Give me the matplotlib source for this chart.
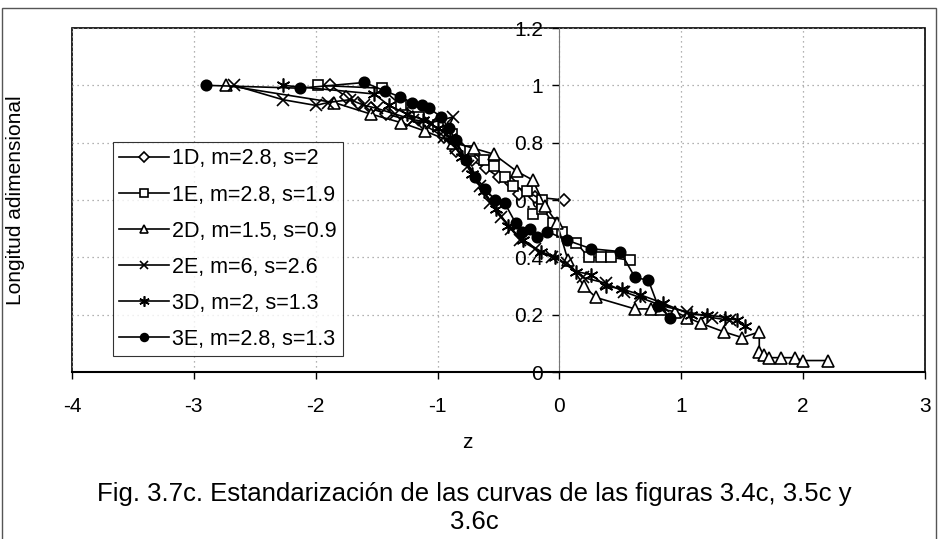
import numpy as np
import matplotlib.pyplot as plt
from matplotlib.patches import Rectangle

plt.rcParams['font.family'] = ['Liberation Sans', 'DejaVu Sans']
plt.rcParams['axes.unicode_minus'] = False

# Data (z, longitud adimensional)
z_1D = [-1.88, -1.75, -1.65, -1.55, -1.42, -1.25, -1.10, -0.95, -0.85, -0.72, -0.60, -0.50, -0.40, -0.33, -0.20, 0.04]
y_1D = [1.00, 0.96, 0.94, 0.92, 0.90, 0.88, 0.86, 0.82, 0.77, 0.74, 0.71, 0.68, 0.66, 0.62, 0.61, 0.60]

z_1E = [-1.98, -1.46, -1.30, -1.15, -1.00, -0.88, -0.73, -0.62, -0.54, -0.45, -0.38, -0.27, -0.14, -0.22, -0.14, -0.05, 0.02, 0.14, 0.24, 0.34, 0.42, 0.58]
y_1E = [1.00, 0.99, 0.93, 0.89, 0.86, 0.83, 0.77, 0.74, 0.72, 0.68, 0.65, 0.63, 0.60, 0.55, 0.57, 0.52, 0.49, 0.45, 0.40, 0.40, 0.40, 0.39]

z_2D = [-2.74, -1.85, -1.55, -1.30, -1.10, -0.87, -0.70, -0.54, -0.35, -0.22, -0.12, -0.02, 0.07, 0.20, 0.30, 0.62, 0.75, 0.83, 0.95,
        1.05, 1.16, 1.35, 1.50, 1.64, 1.64, 1.68, 1.72, 1.82, 1.93, 2.00, 2.20]
y_2D = [1.00, 0.94, 0.90, 0.87, 0.84, 0.80, 0.78, 0.76, 0.70, 0.67, 0.58, 0.52, 0.39, 0.30, 0.26, 0.22, 0.22, 0.22, 0.21,
        0.19, 0.17, 0.14, 0.12, 0.14, 0.07, 0.06, 0.05, 0.05, 0.05, 0.04, 0.04]

z_2E = [-2.67, -2.27, -2.00, -1.90, -1.72, -1.60, -1.50, -1.35, -1.20, -1.05, -0.87, -0.95, -0.85, -0.75, -0.65, -0.57, -0.48,
        -0.40, -0.32, -0.20, -0.06, 0.06, 0.19, 0.38, 0.53, 0.66, 0.85, 1.05, 1.25, 1.40]
y_2E = [1.00, 0.95, 0.93, 0.94, 0.95, 0.93, 0.92, 0.90, 0.88, 0.87, 0.89, 0.82, 0.78, 0.72, 0.65, 0.59, 0.54,
        0.50, 0.46, 0.43, 0.40, 0.38, 0.33, 0.31, 0.28, 0.26, 0.23, 0.21, 0.19, 0.18]

z_3D = [-2.27, -1.52, -1.40, -1.25, -1.12, -1.00, -0.90, -0.80, -0.72, -0.62, -0.52, -0.42, -0.30, -0.15, -0.04, 0.14,
        0.26, 0.38, 0.51, 0.66, 0.85, 1.08, 1.21, 1.36, 1.46, 1.52]
y_3D = [1.00, 0.97, 0.93, 0.90, 0.88, 0.85, 0.82, 0.75, 0.69, 0.63, 0.57, 0.51, 0.46, 0.42, 0.40, 0.35,
        0.34, 0.30, 0.29, 0.27, 0.24, 0.20, 0.20, 0.19, 0.18, 0.16]

z_3E = [-2.90, -2.13, -1.60, -1.43, -1.31, -1.21, -1.13, -1.07, -0.97, -0.91, -0.85, -0.77, -0.69, -0.61, -0.53, -0.45,
        -0.36, -0.31, -0.24, -0.18, -0.10, 0.06, 0.26, 0.50, 0.62, 0.73, 0.81, 0.91]
y_3E = [1.00, 0.99, 1.01, 0.98, 0.96, 0.94, 0.93, 0.92, 0.89, 0.85, 0.81, 0.74, 0.68, 0.64, 0.60, 0.59,
        0.52, 0.49, 0.50, 0.47, 0.49, 0.46, 0.43, 0.42, 0.33, 0.32, 0.23, 0.19]

labels = ['1D, m=2.8, s=2', '1E, m=2.8, s=1.9', '2D, m=1.5, s=0.9',
          '2E, m=6, s=2.6', '3D, m=2, s=1.3', '3E, m=2.8, s=1.3']

series = [(z_1D, y_1D, 'D', 'white', 6.5),
          (z_1E, y_1E, 's', 'white', 7.5),
          (z_2D, y_2D, '^', 'white', 8.5),
          (z_2E, y_2E, 'x', 'black', 8.5),
          (z_3D, y_3D, (6, 2, 0), 'black', 10),
          (z_3E, y_3E, 'o', 'black', 7.5)]

fig = plt.figure(figsize=(9.38, 5.39), dpi=100)
ax = fig.add_axes([72 / 938, 1 - 372 / 539, (925 - 72) / 938, (372 - 28) / 539])

for (zz, yy, mk, fc, ms), lab in zip(series, labels):
    ax.plot(zz, yy, color='black', lw=1.2, marker=mk, markerfacecolor=fc,
            markeredgecolor='black', markeredgewidth=1.2, markersize=ms, label=lab)

ax.set_xlim(-4, 3)
ax.set_ylim(0, 1.2)
ax.set_xticks(np.arange(-4, 4, 1))
ax.set_yticks(np.arange(0, 1.21, 0.2))
ax.set_yticklabels(['0', '0.2', '0.4', '0.6', '0.8', '1', '1.2'])
ax.tick_params(labelsize=15, direction='out', length=5, width=1)
ax.tick_params(axis='x', pad=13)
ax.tick_params(axis='y', pad=7)
ax.grid(True, color='#999999', linestyle=(0, (1, 3)), linewidth=0.9)

# y axis crosses at z = 0, plot-area frame drawn separately
ax.spines['left'].set_position(('data', 0))
ax.spines['left'].set_color('#777777')
ax.spines['top'].set_visible(False)
ax.spines['right'].set_visible(False)
ax.spines['bottom'].set_linewidth(1.5)
ax.add_patch(Rectangle((0, 0), 1, 1, transform=ax.transAxes, fill=False,
                       edgecolor='black', lw=1.2, clip_on=False, zorder=0))

leg = ax.legend(loc='upper left', bbox_to_anchor=((113 - 72) / 853, (372 - 142) / 344),
                fontsize=15.5, frameon=True, fancybox=False, handlelength=2.3,
                borderaxespad=0, labelspacing=0.7, handletextpad=0.15,
                borderpad=0.3, markerscale=0.75)
leg.get_frame().set_edgecolor('black')
leg.get_frame().set_linewidth(0.8)

fig.text(467 / 938, 1 - 443 / 539, 'z', fontsize=15, ha='center', va='center')
fig.text(16 / 938, 1 - 200 / 539, 'Longitud adimensional', fontsize=15,
         rotation=90, ha='center', va='center')
fig.text(474 / 938, 1 - 508 / 539,
         'Fig. 3.7c. Estandarización de las curvas de las figuras 3.4c, 3.5c y\n3.6c',
         fontsize=18.5, ha='center', va='center', linespacing=1.25)

# outer chart border
fig.add_artist(Rectangle((2 / 938, -0.01), 934 / 938, 1 - 8 / 539 + 0.01,
                         transform=fig.transFigure, fill=False, edgecolor='#555555', lw=1))

fig.savefig('out.png', dpi=100)
